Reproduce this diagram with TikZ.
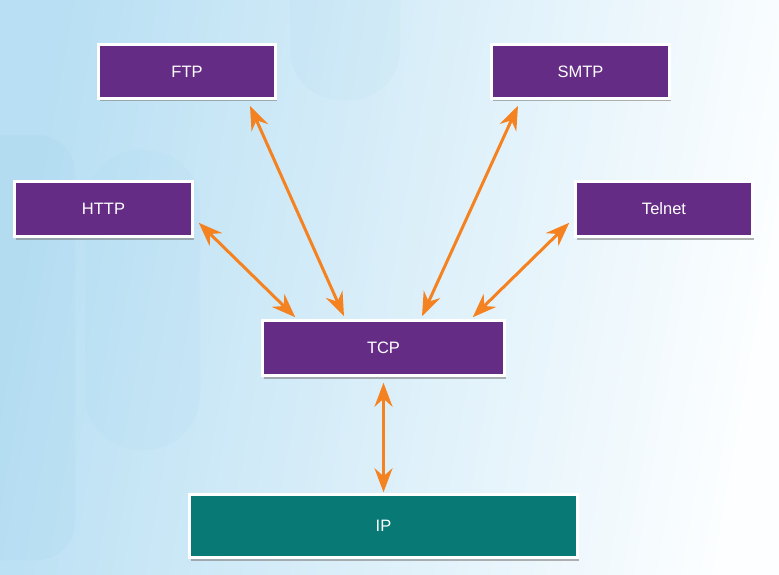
\documentclass[tikz,border=0pt]{standalone}
\usepackage{fontspec}
\setmainfont{Liberation Sans}
\usetikzlibrary{arrows.meta,shadows}

\begin{document}
\begin{tikzpicture}[x=1pt,y=-1pt,
    proto/.style={shape=rectangle,draw=white,line width=2.5pt,text=white,
        font=\fontsize{16.5}{19}\selectfont,
        drop shadow={shadow xshift=1pt,shadow yshift=-3pt,opacity=0.6}},
    link/.style={draw=tcpip_arrow,line width=3pt,
        {Stealth[length=24pt,width=18pt,inset=8pt]}-{Stealth[length=24pt,width=18pt,inset=8pt]}}]
    \definecolor{tcpip_bgA}{RGB}{184,223,243}
    \definecolor{tcpip_bgB}{RGB}{252,254,255}
    \definecolor{tcpip_strip}{RGB}{150,205,235}
    \definecolor{tcpip_app}{RGB}{101,44,134}
    \definecolor{tcpip_ip}{RGB}{8,121,116}
    \definecolor{tcpip_arrow}{RGB}{245,130,32}
    \useasboundingbox (0,0) rectangle (779,575);
    % background
    \begin{scope}
    \clip (0,0) rectangle (779,575);
    \shade[left color=tcpip_bgA,right color=tcpip_bgB,shading angle=80] (0,0) rectangle (779,575);
    \fill[tcpip_strip,opacity=0.13,rounded corners=38pt] (-40,135) rectangle (75,560);
    \fill[tcpip_strip,opacity=0.08,rounded corners=55pt] (85,150) rectangle (200,450);
    \fill[tcpip_strip,opacity=0.08,rounded corners=50pt] (290,-60) rectangle (400,100);
    \end{scope}
    % boxes
    \node[proto,fill=tcpip_app,minimum width=177pt,minimum height=54pt] (ftp)    at (187,71.5)  {FTP};
    \node[proto,fill=tcpip_app,minimum width=178pt,minimum height=54pt] (smtp)   at (580.5,71.5) {SMTP};
    \node[proto,fill=tcpip_app,minimum width=178pt,minimum height=55pt] (http)   at (103.5,209) {HTTP};
    \node[proto,fill=tcpip_app,minimum width=177pt,minimum height=55pt] (telnet) at (664,209)   {Telnet};
    \node[proto,fill=tcpip_app,minimum width=242pt,minimum height=55pt] (tcp)    at (383.5,348) {TCP};
    \node[proto,fill=tcpip_ip,minimum width=388pt,minimum height=63pt]  (ip)     at (383.5,526) {IP};
    % connectors
    \draw[link] ([xshift=5pt,yshift=15pt]http.south east) -- ([xshift=34pt,yshift=2pt]tcp.north west);
    \draw[link] ([xshift=63pt,yshift=-6pt]ftp.south) -- ([xshift=-39.5pt,yshift=3pt]tcp.north);
    \draw[link] ([xshift=-62.5pt,yshift=-6pt]smtp.south) -- ([xshift=38.5pt,yshift=3pt]tcp.north);
    \draw[link] ([xshift=-5pt,yshift=15pt]telnet.south west) -- ([xshift=-33pt,yshift=2pt]tcp.north east);
    \draw[link] ([yshift=-6pt]tcp.south) -- ([yshift=1pt]ip.north);
\end{tikzpicture}
\end{document}
